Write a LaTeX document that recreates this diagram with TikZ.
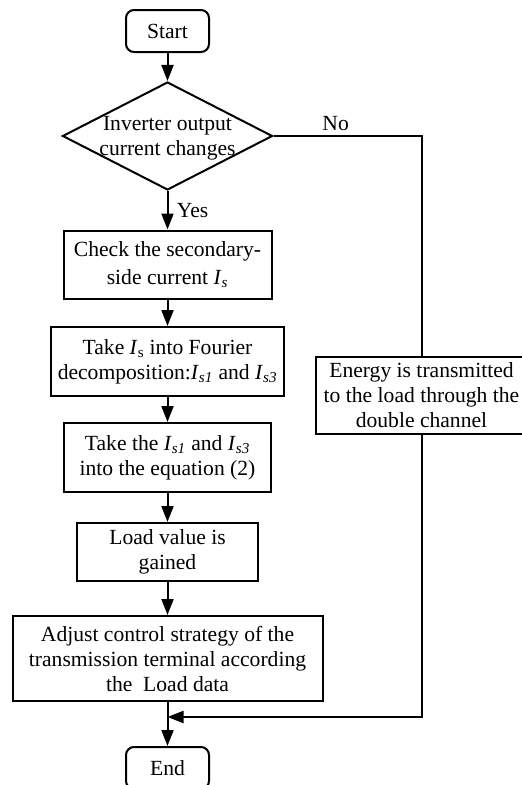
\documentclass[tikz,border=0pt]{standalone}
\usepackage{fontspec}
\setmainfont{Liberation Serif}
\usetikzlibrary{shapes.geometric,arrows.meta}

\tikzset{every picture/.style={line width=1.5pt}}
\tikzset{
  every node/.style={font=\fontsize{16.2}{18.75}\selectfont},
  termbox/.style={draw,rounded corners=6pt,minimum width=62.25pt,minimum height=31.5pt,align=center},
  procbox/.style={draw,align=center,inner sep=2pt},
  decbox/.style={draw,diamond,minimum width=157.5pt,minimum height=81pt,inner sep=0pt},
  flowarrow/.style={-{Triangle[length=12pt,width=9pt]}},
}
\newcommand{\Isub}[1]{\textit{I}\textsubscript{#1}}

\begin{document}
\begin{tikzpicture}[x=0.75pt,y=0.75pt,yscale=-1,xscale=1]
		\useasboundingbox (0,0) rectangle (521,785);
		
		%Shape: Terminator
		\node [termbox] (start) at (167.5,31) {Start};
		%Shape: Diamond
		\node [decbox] (dec) at (167.5,136) {};
		% Text Node
		\node [align=center] (dectext) at (167.5,138) {Inverter output\\current changes};
		
		%Shape: Rectangle
		\node [procbox,minimum width=156pt,minimum height=51pt] (check) at (167.5,264.5) {Check the secondary-\\[2pt]side current \Isub{\textit{s}}};
		%Shape: Rectangle
		\node [procbox,minimum width=174.75pt,minimum height=51.75pt] (four) at (167.5,361.5) {Take \Isub{s} into Fourier\\decomposition:\Isub{\textit{s1}} and \Isub{\textit{s3}}};
		%Shape: Rectangle
		\node [procbox,minimum width=155.25pt,minimum height=51.75pt] (take) at (167.5,457.5) {Take the \Isub{\textit{s1}} and \Isub{\textit{s3}}\\into the equation (2)};
		%Shape: Rectangle
		\node [procbox,minimum width=135.75pt,minimum height=43.5pt] (load) at (167.5,552) {Load value is\\gained};
		%Shape: Rectangle
		\node [procbox,minimum width=232.5pt,minimum height=63.75pt] (adj) at (167.5,658.5) {Adjust control strategy of the\\transmission terminal according\\the\ \ Load data};
		%Shape: Rectangle
		\node [procbox,minimum width=159pt,minimum height=57.75pt] (energy) at (421.5,395.5) {Energy is transmitted\\to the load through the\\double channel};
		%Shape: Terminator
		\node [termbox] (end) at (167.5,768) {End};
		
		\coordinate (nocorner) at (421.5,136);
		\coordinate (backcorner) at (421.5,717);
		\coordinate (merge) at (167.5,717);
		
		%Straight Lines
		\draw [flowarrow] (start) -- (dec);
		\draw [flowarrow] (dec) -- node [right=3pt] {Yes} (check);
		\draw [flowarrow] (check) -- (four);
		\draw [flowarrow] (four) -- (take);
		\draw [flowarrow] (take) -- (load);
		\draw [flowarrow] (load) -- (adj);
		
		%Straight Lines
		\draw (dec.east) -- node [pos=0.42,above] {No} (nocorner) -- (energy.north);
		\draw [flowarrow] (energy.south) -- (backcorner) -- (merge);
		\draw (adj) -- (merge);
		\draw [flowarrow] (merge) -- (end);
		
\end{tikzpicture}
\end{document}
